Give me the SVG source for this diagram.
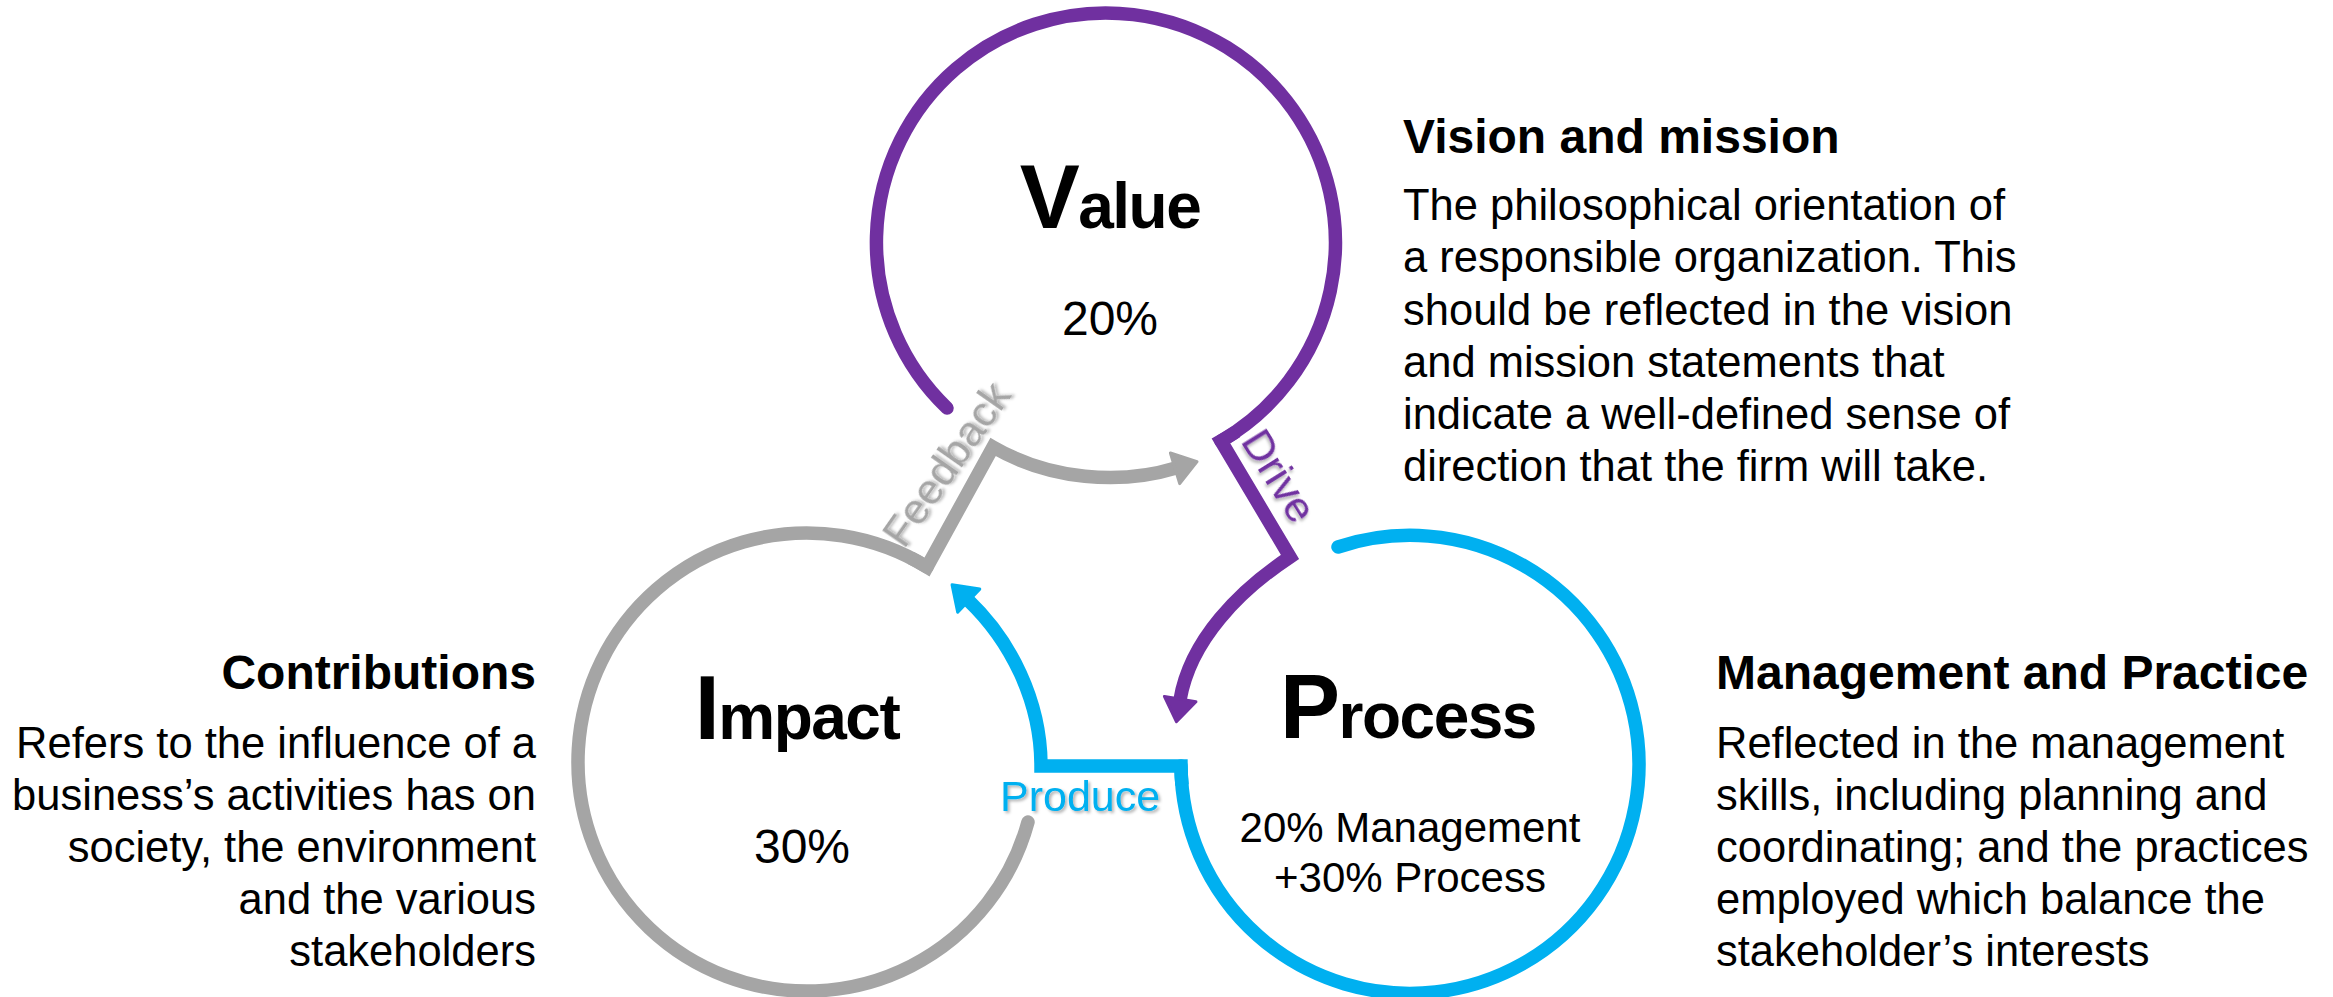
<svg xmlns="http://www.w3.org/2000/svg" width="2333" height="997" viewBox="0 0 2333 997">
<defs>
<style>
.ring{fill:none;stroke-width:13.5;stroke-linecap:round;stroke-linejoin:miter}
.conn{fill:none;stroke-width:13.5;stroke-linejoin:miter;stroke-linecap:butt}
.purple{stroke:#7030A0}
.gray{stroke:#A5A5A5}
.blue{stroke:#00B0F0}
.big{font-family:"Liberation Sans",Arial,sans-serif;font-weight:bold;fill:#000;text-anchor:middle;letter-spacing:-1.5px}
.pct{font-family:"Liberation Sans",Arial,sans-serif;fill:#000;text-anchor:middle}
.lbl{font-family:"Liberation Sans",Arial,sans-serif;font-size:43px}
.head{font-family:"Liberation Sans",Arial,sans-serif;font-weight:bold;font-size:48px;fill:#000}
.body{font-family:"Liberation Sans",Arial,sans-serif;font-size:43.5px;fill:#000}
</style>
<filter id="sh" x="-20%" y="-20%" width="140%" height="140%">
<feDropShadow dx="2" dy="2" stdDeviation="1.5" flood-color="#000" flood-opacity="0.3"/>
</filter>
<marker id="ahP" markerUnits="userSpaceOnUse" markerWidth="40" markerHeight="40" viewBox="-4 -20 40 40" refX="0" refY="0" orient="auto" overflow="visible">
<path d="M-1,-16 L22,0 L-1,16 Z" fill="#7030A0" stroke="#7030A0" stroke-width="3" stroke-linejoin="round"/>
</marker>
<marker id="ahG" markerUnits="userSpaceOnUse" markerWidth="40" markerHeight="40" viewBox="-4 -20 40 40" refX="0" refY="0" orient="auto" overflow="visible">
<path d="M-1,-16 L22,0 L-1,16 Z" fill="#A5A5A5" stroke="#A5A5A5" stroke-width="3" stroke-linejoin="round"/>
</marker>
<marker id="ahB" markerUnits="userSpaceOnUse" markerWidth="40" markerHeight="40" viewBox="-4 -20 40 40" refX="0" refY="0" orient="auto" overflow="visible">
<path d="M-1,-16 L22,0 L-1,16 Z" fill="#00B0F0" stroke="#00B0F0" stroke-width="3" stroke-linejoin="round"/>
</marker>
</defs>
<rect width="2333" height="997" fill="#fff"/>

<g id="node-value">
<path class="ring purple" d="M947,408 A229.5,229.5 0 1 1 1221,441"/>
<text class="big" x="1110" y="228"><tspan font-size="90">V</tspan><tspan font-size="64">alue</tspan></text>
<text class="pct" x="1110" y="335" font-size="48">20%</text>
</g>

<g id="node-impact">
<path class="ring gray" d="M1028,822 A229,229 0 1 1 927,567"/>
<text class="big" x="797" y="739"><tspan font-size="90">I</tspan><tspan font-size="64">mpact</tspan></text>
<text class="pct" x="802" y="863" font-size="48">30%</text>
</g>

<g id="node-process">
<path class="ring blue" d="M1338,547 A229,229 0 1 1 1181,766"/>
<text class="big" x="1408" y="738"><tspan font-size="90">P</tspan><tspan font-size="64">rocess</tspan></text>
<text class="pct" x="1410" y="842" font-size="42">20% Management</text>
<text class="pct" x="1410" y="892" font-size="42">+30% Process</text>
</g>

<g id="connectors">
<path class="conn purple" d="M1236.6,431.5 A229.5,229.5 0 0 1 1221,441 L1290,557 C1240,590 1190,640 1180,700" marker-end="url(#ahP)"/>
<path class="conn gray" d="M911,558 A229,229 0 0 1 927,567 L993,447 C1050,480 1120,485 1176,468" marker-end="url(#ahG)"/>
<path class="conn blue" d="M1182,785 A229,229 0 0 1 1181,766 L1041,766 C1041,700 1010,640 968,600" marker-end="url(#ahB)"/>
<text class="lbl" fill="#7030A0" filter="url(#sh)" transform="translate(1240,441) rotate(58)">Drive</text>
<text class="lbl" fill="#A5A5A5" filter="url(#sh)" transform="translate(904,550) rotate(-55)">Feedback</text>
<text class="lbl" fill="#00B0F0" filter="url(#sh)" x="1000" y="811">Produce</text>
</g>

<g id="desc-value">
<text class="head" x="1403" y="153">Vision and mission</text>
<text class="body" x="1403" y="220">The philosophical orientation of</text>
<text class="body" x="1403" y="272">a responsible organization. This</text>
<text class="body" x="1403" y="325">should be reflected in the vision</text>
<text class="body" x="1403" y="377">and mission statements that</text>
<text class="body" x="1403" y="429">indicate a well-defined sense of</text>
<text class="body" x="1403" y="481">direction that the firm will take.</text>
</g>

<g id="desc-impact" text-anchor="end">
<text class="head" x="536" y="689">Contributions</text>
<text class="body" x="536" y="758">Refers to the influence of a</text>
<text class="body" x="536" y="810">business’s activities has on</text>
<text class="body" x="536" y="862">society, the environment</text>
<text class="body" x="536" y="914">and the various</text>
<text class="body" x="536" y="966">stakeholders</text>
</g>

<g id="desc-process">
<text class="head" x="1716" y="689">Management and Practice</text>
<text class="body" x="1716" y="758">Reflected in the management</text>
<text class="body" x="1716" y="810">skills, including planning and</text>
<text class="body" x="1716" y="862">coordinating; and the practices</text>
<text class="body" x="1716" y="914">employed which balance the</text>
<text class="body" x="1716" y="966">stakeholder’s interests</text>
</g>
</svg>
